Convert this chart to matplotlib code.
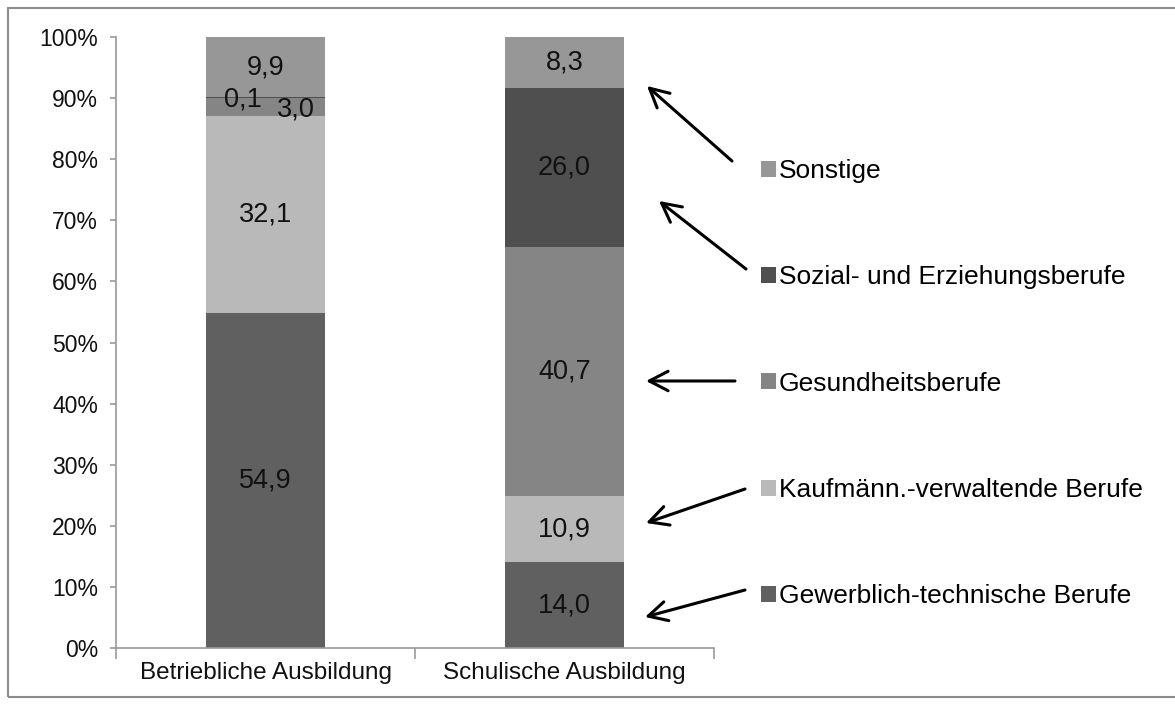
import matplotlib
matplotlib.use("Agg")
import matplotlib.pyplot as plt
from matplotlib.patches import Rectangle, Patch
import numpy as np

plt.rcParams['font.family'] = ['Liberation Sans', 'DejaVu Sans']

# ---- data ----
categories = ['Betriebliche Ausbildung', 'Schulische Ausbildung']
series_names = ['Gewerblich-technische Berufe', 'Kaufmänn.-verwaltende Berufe',
                'Gesundheitsberufe', 'Sozial- und Erziehungsberufe', 'Sonstige']
gewerblich = [54.9, 14.0]
kaufmaenn = [32.1, 10.9]
gesundheit = [3.0, 40.7]
sozial = [0.1, 26.0]
sonstige = [9.9, 8.3]
y_ticks = [0, 10, 20, 30, 40, 50, 60, 70, 80, 90, 100]
y_tick_labels = ['0%', '10%', '20%', '30%', '40%', '50%', '60%', '70%', '80%', '90%', '100%']

series = [gewerblich, kaufmaenn, gesundheit, sozial, sonstige]
colors = ['#606060', '#b9b9b9', '#858585', '#4f4f4f', '#979797']

# 100% stacked: normalise each column to its total
totals = np.sum(np.array(series), axis=0)

W, H = 1175, 704
fig = plt.figure(figsize=(W / 100, H / 100), dpi=100)
ax = fig.add_axes([116 / W, 56 / H, (714 - 116) / W, (648 - 37) / H])

x = np.arange(len(categories))
bottom = np.zeros(len(categories))
# label offsets (pixels) for crowded small segments
offsets = {(3, 0): (-23, -2), (2, 0): (30, -2)}
for si, (vals, col) in enumerate(zip(series, colors)):
    raw = np.array(vals)
    h = raw / totals * 100
    ax.bar(x, h, width=0.4, bottom=bottom, color=col, edgecolor='none',
           label=series_names[si])
    for ci, v in enumerate(raw):
        cy = bottom[ci] + h[ci] / 2
        dx, dy = offsets.get((si, ci), (0, 0))
        ax.annotate(f"{v:.1f}".replace('.', ','), (x[ci], cy),
                    xytext=(dx, dy), textcoords='offset pixels',
                    ha='center', va='center', fontsize=19.5, color='#111111')
    bottom += h

ax.set_xlim(-0.5, 1.5)
ax.set_ylim(0, 100)
ax.set_yticks(y_ticks)
ax.set_yticklabels(y_tick_labels)
ax.set_xticks(x)
ax.set_xticklabels(categories)
ax.set_xticks([-0.5, 0.5, 1.5], minor=True)

for s in ['top', 'right']:
    ax.spines[s].set_visible(False)
for s in ['left', 'bottom']:
    ax.spines[s].set_color('#9a9a9a')
    ax.spines[s].set_linewidth(1.2)

ax.tick_params(axis='y', length=4, width=1.2, color='#9a9a9a', pad=9,
               labelsize=16.5, labelcolor='#111111')
ax.tick_params(axis='x', which='major', length=0, pad=10, labelsize=17.5,
               labelcolor='#111111')
ax.tick_params(axis='x', which='minor', length=8, width=1.2, color='#9a9a9a')

# legend (reverse order)
handles = [Patch(facecolor=c, edgecolor='none') for c in colors][::-1]
leg = fig.legend(handles, series_names[::-1], loc='upper left',
                 bbox_to_anchor=(761 / W, 1 - 159 / H), bbox_transform=fig.transFigure,
                 frameon=False, fontsize=19, borderpad=0, borderaxespad=0,
                 handlelength=0.55, handleheight=0.55, handletextpad=0.12,
                 labelspacing=3.12)

# arrows (tail -> head), in figure pixels from top-left
arrows = [((732, 161), (647, 86)),
          ((746, 269), (659, 201)),
          ((735, 381), (646, 381)),
          ((745, 489), (646, 523)),
          ((745, 590), (645, 617))]
for (tx, ty), (hx, hy) in arrows:
    fig.add_artist(matplotlib.patches.FancyArrowPatch(
        (tx, H - ty), (hx, H - hy), transform=None,
        arrowstyle='->,head_length=1.35,head_width=0.7', mutation_scale=10,
        lw=2.2, color='black', shrinkA=0, shrinkB=0))

# outer frame
fig.add_artist(Rectangle((8 / W, 7 / H), 1.2, 1 - 15 / H, transform=fig.transFigure,
                         fill=False, edgecolor='#8c8c8c', lw=1.5))

fig.savefig('out.png', dpi=100)
